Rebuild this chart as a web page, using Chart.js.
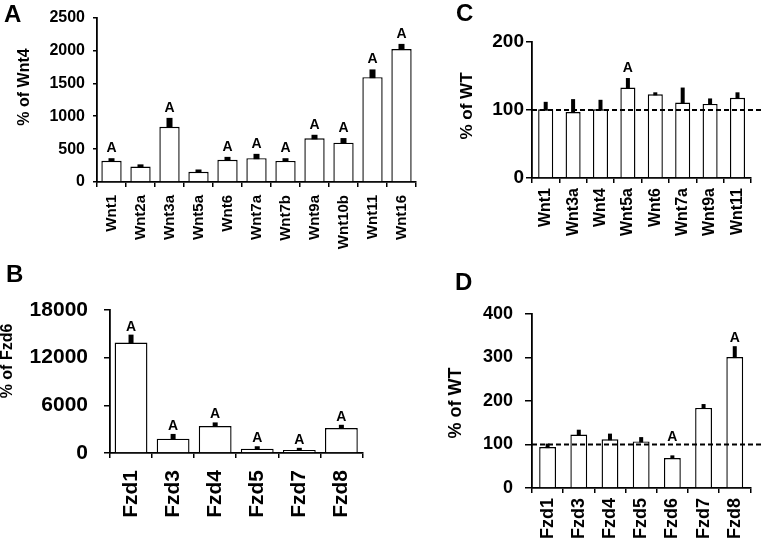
<!DOCTYPE html>
<html lang="en">
<head>
<meta charset="UTF-8">
<title>Wnt / Fzd expression</title>
<script src="https://cdn.jsdelivr.net/npm/chart.js"></script>
<style>
  html, body { margin: 0; padding: 0; background: #fff; }
  body { width: 762px; height: 538px; overflow: hidden; position: relative; }
  canvas { position: absolute; }
  #chartA { left: 0; top: 0; }
  #chartB { left: 0; top: 262px; }
  #chartC { left: 430px; top: 0; }
  #chartD { left: 430px; top: 262px; }
</style>
</head>
<body>
<canvas id="chartA" width="430" height="262"></canvas>
<canvas id="chartB" width="380" height="276"></canvas>
<canvas id="chartC" width="332" height="262"></canvas>
<canvas id="chartD" width="332" height="300"></canvas>

<script>
// A: Wnt ligands, % of Wnt4
const wntLabelsA = ['Wnt1', 'Wnt2a', 'Wnt3a', 'Wnt5a', 'Wnt6', 'Wnt7a', 'Wnt7b', 'Wnt9a', 'Wnt10b', 'Wnt11', 'Wnt16'];
const wntMeansA = [322, 236, 840, 156, 337, 362, 320, 664, 598, 1594, 2022];
const wntUpperA = [362, 268, 975, 190, 382, 428, 362, 718, 668, 1712, 2100];
const wntSigA = [1, 0, 1, 0, 1, 1, 1, 1, 1, 1, 1];
const yTicksA = [0, 500, 1000, 1500, 2000, 2500];

// B: Fzd receptors, % of Fzd6
const fzdLabelsB = ['Fzd1', 'Fzd3', 'Fzd4', 'Fzd5', 'Fzd7', 'Fzd8'];
const fzdMeansB = [13900, 1800, 3400, 550, 380, 3150];
const fzdUpperB = [14900, 2400, 3850, 850, 650, 3550];
const fzdSigB = [1, 1, 1, 1, 1, 1];
const yTicksB = [0, 6000, 12000, 18000];

// C: Wnt ligands, % of WT
const wntLabelsC = ['Wnt1', 'Wnt3a', 'Wnt4', 'Wnt5a', 'Wnt6', 'Wnt7a', 'Wnt9a', 'Wnt11'];
const wntMeansC = [101, 97, 101, 133, 123, 111, 109, 118];
const wntUpperC = [112, 116, 115, 147, 126, 133, 117, 126];
const wntSigC = [0, 0, 0, 1, 0, 0, 0, 0];
const yTicksC = [0, 100, 200];

// D: Fzd receptors, % of WT
const fzdLabelsD = ['Fzd1', 'Fzd3', 'Fzd4', 'Fzd5', 'Fzd6', 'Fzd7', 'Fzd8'];
const fzdMeansD = [94, 123, 112, 107, 69, 184, 301];
const fzdUpperD = [102, 134, 125, 117, 75, 193, 326];
const fzdSigD = [0, 0, 0, 0, 1, 0, 1];
const yTicksD = [0, 100, 200, 300, 400];

const FONT = '"Liberation Sans", Arial, sans-serif';
Chart.defaults.font.family = FONT;
Chart.defaults.font.weight = 'bold';
Chart.defaults.color = '#000';
Chart.defaults.animation = false;

// error bars, dashed WT line, "A" marks, panel letter and y title
const extras = {
  id: 'extras',
  afterDatasetsDraw(chart, args, opts) {
    const ctx = chart.ctx;
    const ds = chart.data.datasets[0];
    const meta = chart.getDatasetMeta(0);
    const y = chart.scales.y;
    const area = chart.chartArea;
    ctx.save();
    ctx.fillStyle = '#000';
    meta.data.forEach((bar, i) => {
      const top = y.getPixelForValue(ds.upper[i]);
      ctx.fillRect(bar.x - opts.errW / 2, top, opts.errW, bar.y - top + 1);
    });
    if (opts.refLine != null) {
      const ry = y.getPixelForValue(opts.refLine);
      ctx.strokeStyle = '#000';
      ctx.lineWidth = 2;
      ctx.setLineDash([5, 3]);
      ctx.beginPath();
      ctx.moveTo(area.left, ry);
      ctx.lineTo(chart.width, ry);
      ctx.stroke();
      ctx.setLineDash([]);
    }
    ctx.font = 'bold 14px ' + FONT;
    ctx.textAlign = 'center';
    ctx.textBaseline = 'alphabetic';
    meta.data.forEach((bar, i) => {
      if (!ds.sig[i]) return;
      let top = y.getPixelForValue(ds.upper[i]);
      if (opts.refLine != null) top = Math.min(top, y.getPixelForValue(opts.refLine));
      ctx.fillText('A', bar.x, top - opts.sigGap);
    });
    ctx.restore();
  },
  afterDraw(chart, args, opts) {
    const ctx = chart.ctx;
    ctx.save();
    ctx.fillStyle = '#000';
    ctx.font = 'bold 24px ' + FONT;
    ctx.textAlign = 'left';
    ctx.textBaseline = 'alphabetic';
    ctx.fillText(opts.letter.text, opts.letter.x, opts.letter.y);
    ctx.translate(opts.yTitle.x, opts.yTitle.y);
    ctx.rotate(-Math.PI / 2);
    ctx.font = 'bold ' + opts.yTitle.size + 'px ' + FONT;
    ctx.textAlign = 'center';
    ctx.textBaseline = 'middle';
    ctx.fillText(opts.yTitle.text, 0, 0);
    ctx.restore();
  }
};

function makePanel(id, p) {
  return new Chart(document.getElementById(id), {
    type: 'bar',
    data: {
      labels: p.labels,
      datasets: [{
        data: p.means,
        upper: p.upper,
        sig: p.sig,
        backgroundColor: '#fff',
        borderColor: '#000',
        borderWidth: 1.4,
        barPercentage: p.barPct,
        categoryPercentage: 1
      }]
    },
    options: {
      responsive: false,
      layout: { padding: p.pad },
      plugins: {
        legend: { display: false },
        tooltip: { enabled: false },
        extras: p.extras
      },
      scales: {
        x: {
          grid: { drawOnChartArea: false, color: '#000', lineWidth: 1.5, tickLength: 5, offset: true },
          border: { color: '#000', width: 1.8 },
          ticks: { autoSkip: false, minRotation: 90, maxRotation: 90, padding: p.xPad, font: { size: p.xFont } },
          afterFit: s => { s.height = p.xH; }
        },
        y: {
          min: p.yTicks[0],
          max: p.yTicks[p.yTicks.length - 1],
          afterBuildTicks: s => { s.ticks = p.yTicks.map(v => ({ value: v })); },
          grid: { drawOnChartArea: false, color: '#000', lineWidth: 1.5, tickLength: p.yTickLen },
          border: { color: '#000', width: 1.8 },
          ticks: { padding: p.yPad, font: { size: p.yFont }, callback: v => String(v) },
          afterFit: s => { s.width = p.yW; }
        }
      }
    },
    plugins: [extras]
  });
}

makePanel('chartA', {
  labels: wntLabelsA, means: wntMeansA, upper: wntUpperA, sig: wntSigA, yTicks: yTicksA,
  barPct: 0.7, pad: { left: 47, right: 14, top: 17, bottom: 0 },
  xH: 80, xPad: 8, xFont: 15, yW: 50, yPad: 8, yTickLen: 4, yFont: 16,
  extras: { errW: 6, sigGap: 6, refLine: null,
    letter: { text: 'A', x: 4, y: 22 }, yTitle: { text: '% of Wnt4', x: 25, y: 87, size: 16 } }
});

makePanel('chartB', {
  labels: fzdLabelsB, means: fzdMeansB, upper: fzdUpperB, sig: fzdSigB, yTicks: yTicksB,
  barPct: 0.78, pad: { left: 25, right: 17, top: 48, bottom: 0 },
  xH: 85, xPad: 12, xFont: 21, yW: 85, yPad: 16, yTickLen: 6, yFont: 21,
  extras: { errW: 5, sigGap: 4, refLine: null,
    letter: { text: 'B', x: 6, y: 20 }, yTitle: { text: '% of Fzd6', x: 8, y: 99, size: 16 } }
});

makePanel('chartC', {
  labels: wntLabelsC, means: wntMeansC, upper: wntUpperC, sig: wntSigC, yTicks: yTicksC,
  barPct: 0.55, pad: { left: 52, right: 5, top: 42, bottom: 0 },
  xH: 84, xPad: 5, xFont: 16, yW: 50, yPad: 2, yTickLen: 6, yFont: 19,
  extras: { errW: 4, sigGap: 6, refLine: 100,
    letter: { text: 'C', x: 26, y: 21 }, yTitle: { text: '% of WT', x: 37, y: 106, size: 17 } }
});

makePanel('chartD', {
  labels: fzdLabelsD, means: fzdMeansD, upper: fzdUpperD, sig: fzdSigD, yTicks: yTicksD,
  barPct: 0.54, pad: { left: 42, right: 9, top: 52, bottom: 0 },
  xH: 74, xPad: 5, xFont: 18, yW: 60, yPad: 12, yTickLen: 7, yFont: 18,
  extras: { errW: 4, sigGap: 4, refLine: 100,
    letter: { text: 'D', x: 25, y: 28 }, yTitle: { text: '% of WT', x: 26, y: 141, size: 18 } }
});
</script>
</body>
</html>
